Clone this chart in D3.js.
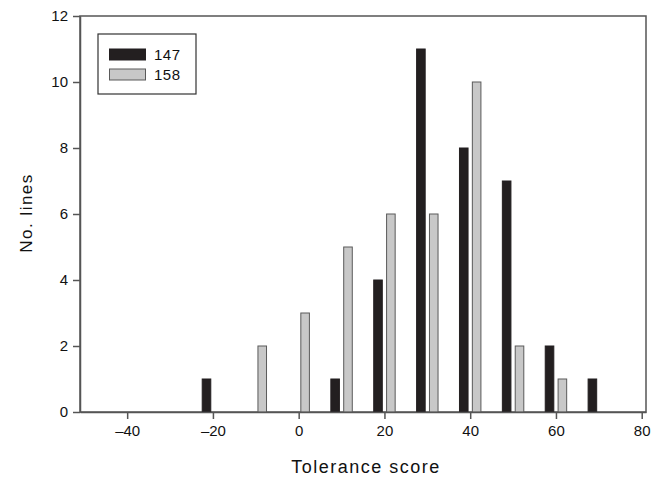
<!DOCTYPE html>
<html>
<head>
<meta charset="utf-8">
<script src="https://d3js.org/d3.v7.min.js"></script>
<style>
  body { margin: 0; background: #fff; }
  svg, svg text { font-family: "Liberation Sans", Arial, sans-serif; }
</style>
</head>
<body>
<svg id="chart" width="659" height="479"></svg>
<script>
// bin centres of the histogram
const bins = [-20, -10, 0, 10, 20, 30, 40, 50, 60, 70];
const series = ["147", "158"];
const counts147 = [1, 0, 0, 1, 4, 11, 8, 7, 2, 1];
const counts158 = [0, 2, 3, 5, 6, 6, 10, 2, 1, 0];
const xTicks = [-40, -20, 0, 20, 40, 60, 80];
const yTicks = [0, 2, 4, 6, 8, 10, 12];

const fills = { "147": "#231f20", "158": "#c8c8c8" };
const strokes = { "147": "#231f20", "158": "#5a5a5a" };
const offsets = { "147": -1.5, "158": 1.5 };

const svg = d3.select("#chart");
const pLeft = 80, pRight = 646, pTop = 16, pBottom = 412;

const x = d3.scaleLinear().domain([-51, 81]).range([pLeft, pRight]);
const y = d3.scaleLinear().domain([0, 12]).range([pBottom, pTop]);
const barW = 2.0; // in data units

const axisColor = "#555";
const font = "'Liberation Sans', Arial, sans-serif";

// frame
svg.append("rect")
  .attr("x", pLeft).attr("y", pTop)
  .attr("width", pRight - pLeft).attr("height", pBottom - pTop)
  .attr("fill", "none").attr("stroke", axisColor).attr("stroke-width", 1.5);

// bars
const rows = [];
bins.forEach((b, i) => {
  rows.push({ s: "147", bin: b, v: counts147[i] });
  rows.push({ s: "158", bin: b, v: counts158[i] });
});

svg.append("g").selectAll("rect").data(rows.filter(d => d.v > 0)).enter().append("rect")
  .attr("x", d => x(d.bin + offsets[d.s] - barW / 2))
  .attr("y", d => y(d.v))
  .attr("width", d => x(d.bin + offsets[d.s] + barW / 2) - x(d.bin + offsets[d.s] - barW / 2))
  .attr("height", d => y(0) - y(d.v))
  .attr("fill", d => fills[d.s])
  .attr("stroke", d => strokes[d.s])
  .attr("stroke-width", 1);

// x axis
const fmt = d => d < 0 ? "\u2013" + Math.abs(d) : String(d);
const gx = svg.append("g")
  .attr("transform", "translate(0," + pBottom + ")")
  .call(d3.axisBottom(x).tickValues(xTicks).tickFormat(fmt).tickSize(7).tickPadding(6).tickSizeOuter(0))
  .attr("font-family", font).attr("font-size", 15);
gx.select(".domain").attr("stroke", axisColor).attr("stroke-width", 1.5);
gx.selectAll(".tick line").attr("stroke", axisColor).attr("stroke-width", 1.5);
gx.selectAll("text").attr("fill", "#111");

// y axis
const gy = svg.append("g")
  .attr("transform", "translate(" + pLeft + ",0)")
  .call(d3.axisLeft(y).tickValues(yTicks).tickSize(7).tickPadding(5).tickSizeOuter(0))
  .attr("font-family", font).attr("font-size", 15);
gy.select(".domain").attr("stroke", axisColor).attr("stroke-width", 1.5);
gy.selectAll(".tick line").attr("stroke", axisColor).attr("stroke-width", 1.5);
gy.selectAll("text").attr("fill", "#111");

// axis titles
svg.append("text")
  .attr("x", 366).attr("y", 473)
  .attr("text-anchor", "middle")
  .attr("font-family", font)
  .attr("font-size", 18).attr("letter-spacing", 1.5).attr("fill", "#111")
  .text("Tolerance score");

svg.append("text")
  .attr("transform", "translate(32,213) rotate(-90)")
  .attr("text-anchor", "middle")
  .attr("font-family", font)
  .attr("font-size", 17).attr("letter-spacing", 1.5).attr("fill", "#111")
  .text("No. lines");

// legend
const leg = svg.append("g").attr("font-family", font);
leg.append("rect")
  .attr("x", 98).attr("y", 34).attr("width", 98).attr("height", 60)
  .attr("fill", "#fff").attr("stroke", "#333").attr("stroke-width", 1.2);
series.forEach((s, i) => {
  leg.append("rect")
    .attr("x", 109.5).attr("y", 49 + i * 20).attr("width", 36).attr("height", 11)
    .attr("fill", fills[s]).attr("stroke", strokes[s]).attr("stroke-width", 1);
  leg.append("text")
    .attr("x", 154).attr("y", 60 + i * 20)
    .attr("font-size", 15).attr("letter-spacing", 0.5).attr("fill", "#111")
    .text(s);
});
</script>
</body>
</html>
